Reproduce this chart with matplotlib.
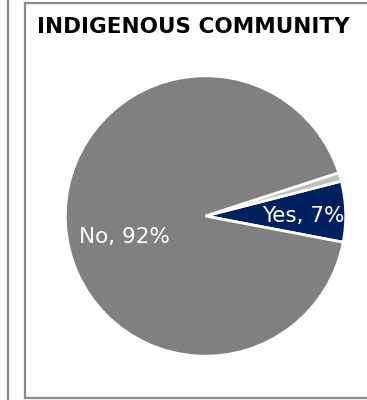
import matplotlib.pyplot as plt
from matplotlib.lines import Line2D
import numpy as np

# data
categories = ['Yes', 'Other', 'No']
values = [7, 1, 92]
colors = ['#002060', '#bfbfbf', '#808080']
show_label = [True, False, True]

W, H = 367, 400
fig = plt.figure(figsize=(W / 100, H / 100), dpi=100)

# panel frames (left edge of neighbour panel + this panel box)
def fline(x0, y0, x1, y1):
    fig.add_artist(Line2D([x0 / W, x1 / W], [1 - y0 / H, 1 - y1 / H],
                          color='#8a8a8a', lw=1.6, transform=fig.transFigure))

fline(7.5, 0, 7.5, H)
fline(24.5, 3, 24.5, 397.5)
fline(24.5, 3, W, 3)
fline(24.5, 397.5, W, 397.5)

fig.text(37 / W, 1 - 27 / H, 'INDIGENOUS COMMUNITY', fontsize=15.5,
         fontweight='bold', family='DejaVu Sans', va='center', ha='left',
         color='black')

# pie
cx, cy, r = 205.5, 216, 143
ax = fig.add_axes([(cx - r) / W, (H - cy - r) / H, 2 * r / W, 2 * r / H])
wedges, _ = ax.pie(values, colors=colors, startangle=-10.8,
                   counterclock=True,
                   wedgeprops=dict(edgecolor='white', linewidth=2))
ax.set_xlim(-1.02, 1.02)
ax.set_ylim(-1.02, 1.02)
ax.set_aspect('equal')
ax.axis('off')

# label placement (polar offsets inside each wedge)
label_pos = {'Yes': (0.0, 0.7), 'No': (194.5, 0.6)}
for w, cat, v, show in zip(wedges, categories, values, show_label):
    if not show:
        continue
    ang, dist = label_pos[cat]
    x, y = dist * np.cos(np.radians(ang)), dist * np.sin(np.radians(ang))
    ax.text(x, y, f'{cat}, {v}%', color='white', fontsize=15.5,
            family='DejaVu Sans', ha='center', va='center')

fig.savefig('out.png', dpi=100)
